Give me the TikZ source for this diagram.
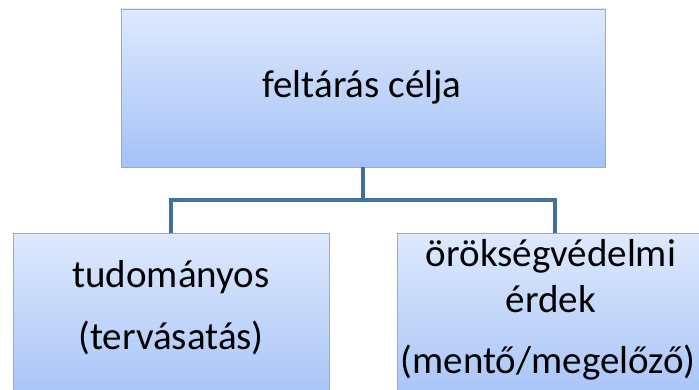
\documentclass[tikz,border=0pt]{standalone}
\usepackage{fontspec}
\setmainfont{Carlito}
\definecolor{boxtop}{HTML}{DEE9FD}
\definecolor{boxbot}{HTML}{A4C2F7}
\definecolor{boxline}{HTML}{A9A9A9}
\definecolor{connc}{HTML}{41719C}
\begin{document}
\begin{tikzpicture}[x=1pt,y=1pt,
  box/.style={draw=boxline, line width=0.9pt, top color=boxtop, bottom color=boxbot, inner sep=0pt},
  conn/.style={draw=connc, line width=4pt},
  txt/.style={font=\fontsize{39}{44}\selectfont, inner sep=0pt, anchor=base}]
\useasboundingbox (0,0) rectangle (699,389);
\clip (0,0) rectangle (699,389);
\fill[white] (0,0) rectangle (699,389);
\node[box, minimum width=484, minimum height=158] (top) at (363,301) {};
\node[box, minimum width=316, minimum height=176] (left) at (171,68) {};
\node[box, minimum width=316, minimum height=176] (right) at (555,68) {};
\coordinate (bus) at (363,189);
\draw[conn] (top.south) -- (bus);
\draw[conn] (left.north) |- (bus) -| (right.north);
\node[txt] (t0) at (362,291) {feltárás célja};
\node[txt] (l1) at (171,102) {tudományos};
\node[txt] (l2) at (171,40) {(tervásatás)};
\node[txt] (r1) at (551,123) {örökségvédelmi};
\node[txt] (r2) at (551,77) {érdek};
\node[txt] (r3) at (548,16) {(mentő/megelőző)};
\end{tikzpicture}
\end{document}
